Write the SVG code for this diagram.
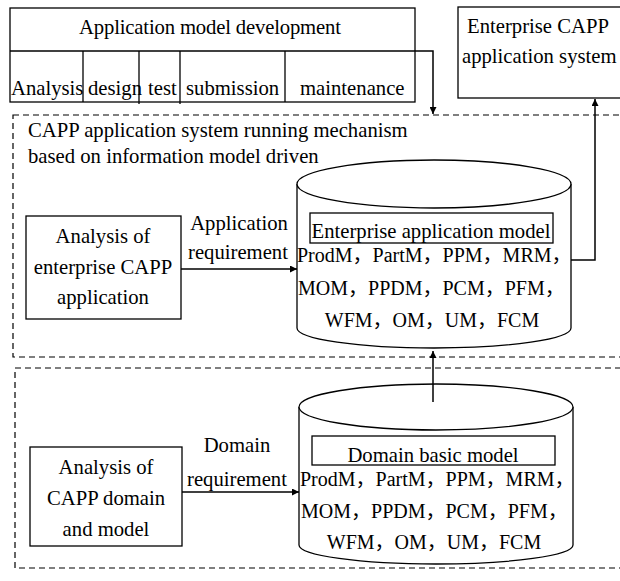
<svg xmlns="http://www.w3.org/2000/svg" width="620" height="581" viewBox="0 0 620 581">
<defs>
<style>
text{font-family:"Liberation Serif","Noto Sans CJK SC",serif;font-size:20.7px;fill:#000}
.m{text-anchor:middle}
.lst{font-size:20px}
.box{fill:#fff;stroke:#000;stroke-width:1.3}
.ln{fill:none;stroke:#000;stroke-width:1.3}
.dash{fill:none;stroke:#000;stroke-width:1.2;stroke-dasharray:6 4}
.arr{fill:none;stroke:#000;stroke-width:1.5;marker-end:url(#ah)}
</style>
<marker id="ah" viewBox="0 0 10 10" refX="10" refY="5" markerWidth="7" markerHeight="7" markerUnits="userSpaceOnUse" orient="auto">
<path d="M0,0 L10,5 L0,10 z" fill="#000"/>
</marker>
</defs>
<rect width="620" height="581" fill="#fff"/>

<g id="region-running">
<rect class="dash" x="13" y="115" width="620" height="242"/>
<text x="28" y="137">CAPP application system running mechanism</text>
<text x="28" y="163">based on information model driven</text>
</g>
<g id="region-domain">
<rect class="dash" x="15" y="368" width="620" height="200"/>
</g>

<g id="dev">
<rect class="box" x="10" y="8" width="405" height="94"/>
<line class="ln" x1="10" y1="51" x2="415" y2="51"/>
<line class="ln" x1="83" y1="51" x2="83" y2="102"/>
<line class="ln" x1="139" y1="51" x2="139" y2="104"/>
<line class="ln" x1="180" y1="51" x2="180" y2="104"/>
<line class="ln" x1="285" y1="51" x2="285" y2="102"/>
<text class="m" x="210" y="34" textLength="262">Application model development</text>
<text x="11" y="95">Analysis</text>
<text x="88" y="95">design</text>
<text x="148" y="95">test</text>
<text x="186" y="95">submission</text>
<text x="300" y="95">maintenance</text>
</g>

<g id="enterprise-system">
<rect class="box" x="458" y="7" width="180" height="91"/>
<text x="467" y="33">Enterprise CAPP</text>
<text x="462" y="63">application system</text>
</g>

<g id="enterprise-model">
<path class="box" d="M297,184 V328 A137,20 0 0 0 571,328 V184"/>
<ellipse class="box" cx="434" cy="184" rx="137" ry="24"/>
<rect class="box" x="310" y="213" width="243" height="30"/>
<text class="m" x="431" y="238">Enterprise application model</text>
<text class="lst" x="297" y="262">ProdM，PartM，PPM，MRM，</text>
<text class="lst" x="298" y="295">MOM，PPDM，PCM，PFM，</text>
<text class="lst m" x="432" y="327">WFM，OM，UM，FCM</text>
</g>

<g id="analysis-enterprise">
<rect class="box" x="26" y="216" width="155" height="103"/>
<text class="m" x="103" y="243">Analysis of</text>
<text class="m" x="103" y="274">enterprise CAPP</text>
<text class="m" x="103" y="304">application</text>
</g>

<g id="domain-model">
<path class="box" d="M299,407 V545 A137,19 0 0 0 573,545 V407"/>
<ellipse class="box" cx="436" cy="407" rx="137" ry="23"/>
<rect class="box" x="312" y="436" width="243" height="29"/>
<text class="m" x="433" y="462">Domain basic model</text>
<text class="lst" x="300" y="486">ProdM，PartM，PPM，MRM，</text>
<text class="lst" x="301" y="518">MOM，PPDM，PCM，PFM，</text>
<text class="lst m" x="434" y="549">WFM，OM，UM，FCM</text>
</g>

<g id="analysis-domain">
<rect class="box" x="30" y="447" width="152" height="99"/>
<text class="m" x="106" y="474">Analysis of</text>
<text class="m" x="106" y="505">CAPP domain</text>
<text class="m" x="106" y="536">and model</text>
</g>

<g id="connectors">
<polyline class="arr" points="415,51 433,51 433,114"/>
<polyline class="arr" points="571,260 595,260 595,99"/>
<line class="arr" x1="181" y1="269" x2="297" y2="269"/>
<line class="arr" x1="182" y1="492" x2="299" y2="492"/>
<line class="arr" x1="433" y1="402" x2="433" y2="351"/>
<text class="m" x="239" y="230">Application</text>
<text class="m" x="238" y="259">requirement</text>
<text class="m" x="237" y="452">Domain</text>
<text class="m" x="237" y="486">requirement</text>
</g>
</svg>
